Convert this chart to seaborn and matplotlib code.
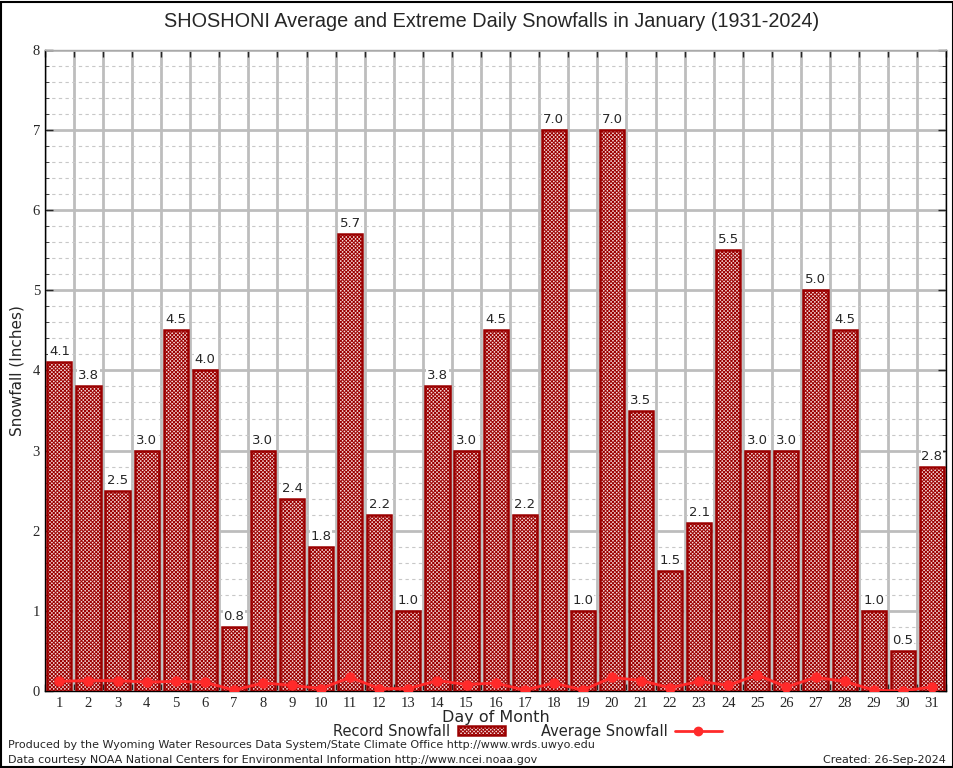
import matplotlib
matplotlib.use("Agg")
import matplotlib.pyplot as plt
import matplotlib.patches as mpatches
import matplotlib.lines as mlines
from matplotlib.ticker import MultipleLocator
import seaborn as sns
import pandas as pd
import numpy as np

# Data
days = list(range(1, 32))
record_snow = [4.1, 3.8, 2.5, 3.0, 4.5, 4.0, 0.8, 3.0, 2.4, 1.8, 5.7, 2.2, 1.0, 3.8, 3.0, 4.5,
               2.2, 7.0, 1.0, 7.0, 3.5, 1.5, 2.1, 5.5, 3.0, 3.0, 5.0, 4.5, 1.0, 0.5, 2.8]
avg_snow = [0.12, 0.13, 0.13, 0.11, 0.12, 0.11, 0.01, 0.10, 0.07, 0.03, 0.17, 0.03, 0.03, 0.13,
            0.08, 0.10, 0.01, 0.10, 0.01, 0.17, 0.13, 0.04, 0.12, 0.07, 0.20, 0.05, 0.17, 0.12,
            0.01, 0.00, 0.05]

df = pd.DataFrame({"day": [str(d) for d in days], "record": record_snow, "avg": avg_snow})

sns.set_style("white")
plt.rcParams["hatch.color"] = "#cc1010"
plt.rcParams["hatch.linewidth"] = 0.7

fig = plt.figure(figsize=(9.54, 7.68), dpi=100)
ax = fig.add_axes([0.047, 0.1003, 0.945, 0.8347])

sns.barplot(data=df, x="day", y="record", ax=ax, width=0.83,
            color="white", edgecolor="#9b0000", linewidth=1.8, zorder=3)
for p in ax.patches:
    p.set_hatch("xxxxxxxxx")
    p.set_facecolor("#f6dada")

# value labels
for i, v in enumerate(record_snow):
    ax.text(i, v + 0.05, f"{v:.1f}", ha="center", va="bottom", fontsize=9.5,
            family="DejaVu Sans", zorder=2,
            bbox=dict(facecolor="white", edgecolor="none", pad=0.5))

# average line
sns.pointplot(data=df, x="day", y="avg", ax=ax, color="#ff2a2a", markers="o",
              markersize=6, linewidth=2)
for coll in ax.collections:
    coll.set_zorder(5)
for ln in ax.lines:
    ln.set_zorder(5)

ax.set_xlim(-0.5, 30.5)
ax.set_ylim(0, 8)

# grid
ax.yaxis.set_major_locator(MultipleLocator(1))
ax.yaxis.set_minor_locator(MultipleLocator(0.2))
ax.set_xticks(np.arange(-0.5, 31, 1), minor=True)
ax.grid(False)
ax.grid(which="major", axis="y", color="#bdbdbd", linewidth=2, linestyle="-", zorder=0)
ax.grid(which="minor", axis="y", color="#c8c8c8", linewidth=0.8, linestyle=(0, (3, 3)), zorder=0)
ax.grid(which="minor", axis="x", color="#bdbdbd", linewidth=2, linestyle="-", zorder=0)
ax.set_axisbelow(True)

ax.tick_params(axis="x", which="major", length=0, pad=4, labelsize=10.5)
ax.tick_params(axis="x", which="minor", direction="in", length=5, top=True, bottom=True, width=1)
ax.tick_params(axis="y", which="major", direction="in", length=6, left=True, right=True,
               labelsize=10.5, width=1)
ax.tick_params(axis="y", which="minor", direction="in", length=3, left=True, right=True)
for lab in ax.get_xticklabels() + ax.get_yticklabels():
    lab.set_family("Liberation Serif")

for s in ax.spines.values():
    s.set_visible(True)
    s.set_color("black")
    s.set_linewidth(1)
ax.spines["top"].set_color("#aaaaaa")

ax.set_xlabel("Day of Month", fontsize=11.5, labelpad=0)
ax.set_ylabel("Snowfall (Inches)", fontsize=11, labelpad=6)
fig.suptitle("SHOSHONI Average and Extreme Daily Snowfalls in January (1931-2024)",
             fontsize=14.3, y=0.985, x=0.515, family="Liberation Sans")

# legend
rec_patch = mpatches.Patch(facecolor="#f6dada", edgecolor="#9b0000", hatch="xxxxxxxxx",
                           linewidth=1.8, label="Record Snowfall")
avg_line = mlines.Line2D([], [], color="#ff2a2a", marker="o", markersize=6,
                         linewidth=2, label="Average Snowfall")
fig.legend(handles=[rec_patch, avg_line], loc="center", bbox_to_anchor=(0.553, 0.048),
           ncol=2, frameon=False, fontsize=10.5, markerfirst=False, handlelength=3.2,
           columnspacing=2.5, handletextpad=0.5, handleheight=0.5, borderpad=0)

fig.text(0.008, 0.030, "Produced by the Wyoming Water Resources Data System/State Climate Office http://www.wrds.uwyo.edu",
         fontsize=8, va="center")
fig.text(0.008, 0.011, "Data courtesy NOAA National Centers for Environmental Information http://www.ncei.noaa.gov",
         fontsize=8, va="center")
fig.text(0.991, 0.011, "Created: 26-Sep-2024", fontsize=8, va="center", ha="right")

fig.patches.append(mpatches.Rectangle((0.001, 0.001), 0.998, 0.997, transform=fig.transFigure,
                                      fill=False, edgecolor="black", linewidth=1.5))

fig.savefig("out.png", dpi=100)
